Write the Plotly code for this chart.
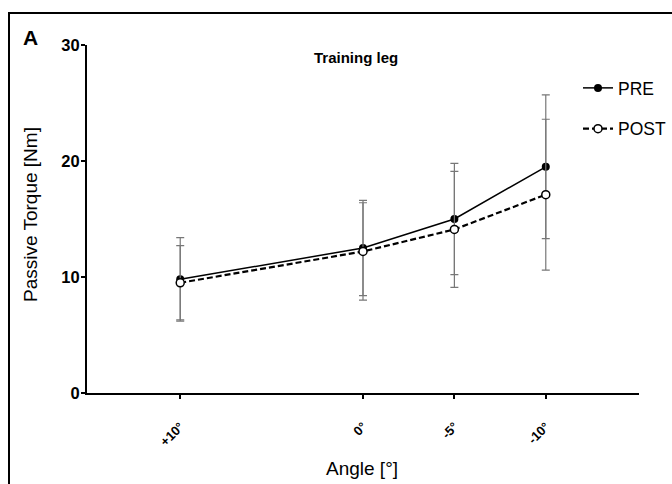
import plotly.graph_objects as go

angles = [10, 0, -5, -10]
tick_labels = ["+10°", "0°", "-5°", "-10°"]
pre_mean = [9.8, 12.5, 15.0, 19.5]
pre_sd = [3.6, 4.1, 4.8, 6.2]
post_mean = [9.5, 12.2, 14.1, 17.1]
post_sd = [3.2, 4.2, 5.0, 6.5]

W, H = 672, 484
L, R, T, B = 87, 33, 45, 91
pw, ph = W - L - R, H - T - B

def px(x):
    return (x - L) / pw

def py(y):
    return (H - B - y) / ph

FONT = "Liberation Sans, Arial, sans-serif"

fig = go.Figure()
fig.add_trace(go.Scatter(
    x=angles, y=pre_mean, name="PRE", mode="lines+markers",
    line=dict(color="black", width=1.5),
    marker=dict(symbol="circle", size=8, color="black"),
    error_y=dict(type="data", array=pre_sd, visible=True, color="#777777", thickness=1.2, width=4),
    legendgroup="a",
))
fig.add_trace(go.Scatter(
    x=angles, y=post_mean, name="POST", mode="lines+markers",
    line=dict(color="black", width=2.2, dash="6px,3px"),
    marker=dict(symbol="circle", size=8, color="white", line=dict(color="black", width=1.5)),
    error_y=dict(type="data", array=post_sd, visible=True, color="#777777", thickness=1.2, width=4),
    legendgroup="b",
))

def ann(text, x, y, size, angle=0):
    return dict(text=text, x=px(x), y=py(y), xref="paper", yref="paper",
                xanchor="center", yanchor="middle", showarrow=False,
                textangle=angle, font=dict(size=size, family=FONT))

fig.update_layout(
    width=W, height=H,
    margin=dict(l=L, r=R, t=T, b=B, autoexpand=False),
    paper_bgcolor="white", plot_bgcolor="white",
    font=dict(family=FONT, color="black"),
    showlegend=True,
    legend=dict(x=px(578), y=py(70), xanchor="left", yanchor="top",
                font=dict(size=17.5, family=FONT), tracegroupgap=15,
                bgcolor="rgba(0,0,0,0)", itemwidth=30),
    xaxis=dict(range=[15.1, -15.1], tickvals=angles, ticktext=tick_labels,
               tickangle=-45, tickfont=dict(size=13, family=FONT, weight="bold"),
               ticklabelstandoff=15,
               showline=True, linecolor="black", linewidth=2,
               ticks="outside", ticklen=4, tickwidth=2, tickcolor="black",
               showgrid=False, zeroline=False, automargin=False),
    yaxis=dict(range=[0, 30], tickvals=[0, 10, 20, 30],
               tickfont=dict(size=16.5, family=FONT, weight="bold"),
               ticklabelstandoff=-2,
               showline=True, linecolor="black", linewidth=2,
               ticks="outside", ticklen=4, tickwidth=2, tickcolor="black",
               showgrid=False, zeroline=False, automargin=False),
    shapes=[dict(type="rect", xref="paper", yref="paper",
                 x0=px(9), x1=px(690), y0=py(13), y1=py(500),
                 line=dict(color="black", width=2), fillcolor="rgba(0,0,0,0)")],
    annotations=[
        ann("<b>A</b>", 30.5, 37.5, 21),
        ann("<b>Training leg</b>", 356, 58, 15),
        ann("Passive Torque [Nm]", 30, 215, 19, -90),
        ann("Angle [°]", 362, 468, 19),
    ],
)

fig.write_html("out.html")
